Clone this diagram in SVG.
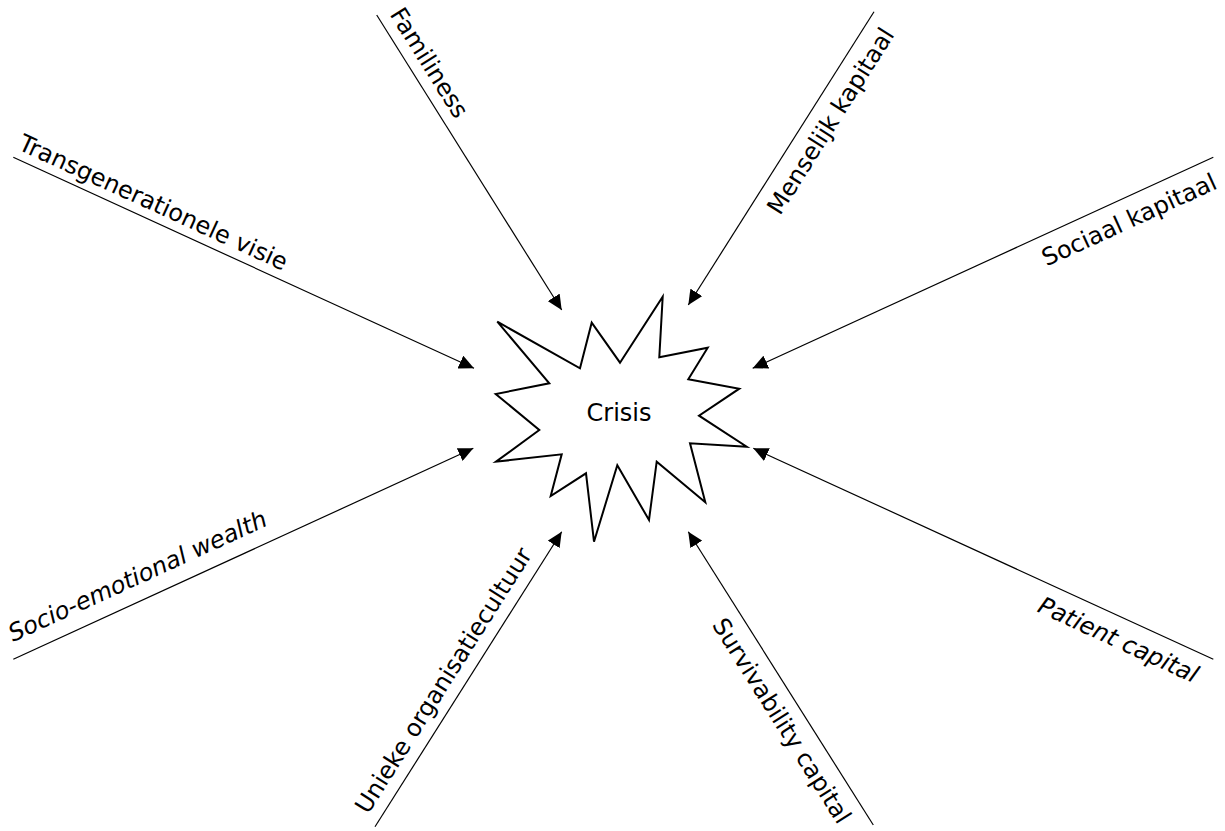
<svg xmlns="http://www.w3.org/2000/svg" width="1225" height="831" viewBox="0 0 1225 831">
<style>
.lbl{font-family:"DejaVu Sans","Verdana",sans-serif;font-size:24px;fill:#000}
.it{font-style:italic}
.conn{stroke:#000;stroke-width:1.2;fill:none;marker-end:url(#ah)}
</style>
<defs>
<marker id="ah" markerUnits="userSpaceOnUse" markerWidth="16" markerHeight="14" refX="15" refY="7" orient="auto">
<path d="M0,0 L15,7 L0,14 z" fill="#000"/>
</marker>
</defs>
<rect width="1225" height="831" fill="#fff"/>
<g id="connectors">
<line class="conn" x1="376.7" y1="15" x2="561.7" y2="310"/>
<line class="conn" x1="874" y1="11.7" x2="688.3" y2="305"/>
<line class="conn" x1="13.3" y1="157.3" x2="474" y2="368.3"/>
<line class="conn" x1="1213.3" y1="157.3" x2="752.7" y2="368.3"/>
<line class="conn" x1="13.3" y1="659.3" x2="473.3" y2="448.3"/>
<line class="conn" x1="1213.3" y1="659.3" x2="753.3" y2="448.3"/>
<line class="conn" x1="375" y1="826.7" x2="561.7" y2="531.7"/>
<line class="conn" x1="873.3" y1="825" x2="688.3" y2="531.7"/>
</g>
<g id="crisis">
<polygon points="497.3,321.7 580,368.3 591.7,322.7 620,362.7 662.7,296.7 659.3,357.3 707.7,347.7 688.3,379.3 739.3,388.7 699,415.7 746.7,446.7 690,443.3 705.3,502.3 656.7,461.7 649,520 617.3,465.3 594,541.7 586,473.3 550.7,496 561.7,454.3 496,461.7 539.3,430 495.7,394 549.3,383.3" fill="#fff" stroke="#000" stroke-width="2" stroke-linejoin="miter"/>
<text class="lbl" x="619" y="420.7" text-anchor="middle">Crisis</text>
</g>
<g id="familiness"><text class="lbl" transform="translate(389.2,14.3) rotate(57.9)">Familiness</text></g>
<g id="menselijk-kapitaal"><text class="lbl" text-anchor="end" transform="translate(895.1,34.5) rotate(-57.66)">Menselijk kapitaal</text></g>
<g id="transgenerationele-visie"><text class="lbl" transform="translate(17,149) rotate(24.6)">Transgenerationele visie</text></g>
<g id="sociaal-kapitaal"><text class="lbl" text-anchor="end" transform="translate(1218.5,187.9) rotate(-24.6)">Sociaal kapitaal</text></g>
<g id="socio-emotional-wealth"><text class="lbl it" transform="translate(13,642) rotate(-24.6)">Socio-emotional wealth</text></g>
<g id="patient-capital"><text class="lbl it" text-anchor="end" transform="translate(1193.5,683.3) rotate(24.6)">Patient capital</text></g>
<g id="unieke-organisatiecultuur"><text class="lbl" transform="translate(368,815) rotate(-57.7)">Unieke organisatiecultuur</text></g>
<g id="survivability-capital"><text class="lbl" text-anchor="end" transform="translate(838,825.5) rotate(57.8)">Survivability capital</text></g>
</svg>
